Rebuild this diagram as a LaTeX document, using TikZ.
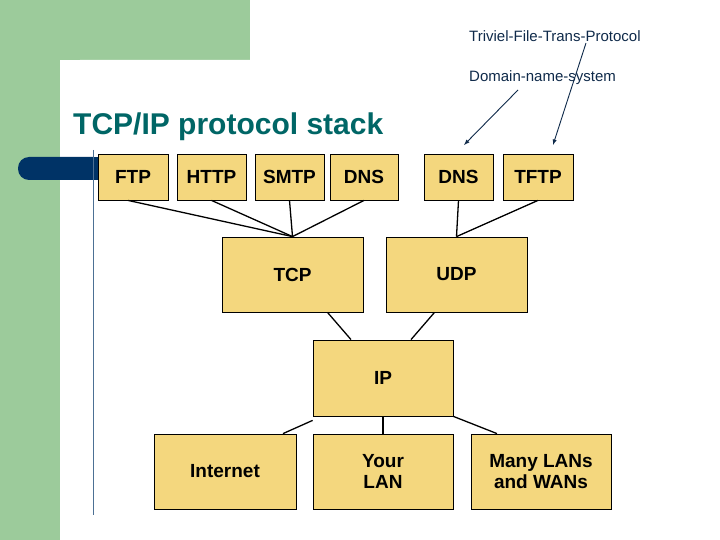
\documentclass[tikz,border=0pt]{standalone}
\usepackage{fontspec}
\setmainfont{Liberation Sans}
\begin{document}
\begin{tikzpicture}[x=1pt,y=-1pt,
  box/.style={draw=black,line width=0.8pt,fill=boxfill,font=\bfseries\fontsize{19}{21}\selectfont,inner sep=0pt,align=center},
  link/.style={line width=1.3pt},
  note/.style={font=\fontsize{15}{17}\selectfont,text=notec,anchor=west,inner sep=0pt},
  narrow/.style={line width=0.9pt,draw=notec,-latex}]
\definecolor{boxfill}{HTML}{F4D77E}
\definecolor{greenbg}{HTML}{9CCB9B}
\definecolor{navy}{HTML}{003366}
\definecolor{teal}{HTML}{006666}
\definecolor{notec}{HTML}{0F2A4A}
\useasboundingbox (0,0) rectangle (720,540);
\fill[greenbg] (0,0) rectangle (250,60);
\fill[greenbg] (0,0) rectangle (60,540);
\fill[white,rounded corners=20pt] (60,60) rectangle (740,560);
\fill[navy,rounded corners=11pt] (18,157) rectangle (110,180);
\fill[navy] (80,157) rectangle (93,180);
\fill[white] (93,140) rectangle (100,157);
\draw[navy!70,line width=0.8pt] (93,150) -- (93,515);
\node[anchor=base west,inner sep=0pt,text=teal,font=\bfseries\fontsize{30}{32}\selectfont] (title) at (73,135) {TCP/IP protocol stack};
\node[note] (tftpn) at (469,36) {Triviel-File-Trans-Protocol};
\node[note] (dnsn) at (469,78) {Domain-name-system};
\coordinate (a1) at (518,90); \coordinate (b1) at (464,145);
\coordinate (a2) at (586,43); \coordinate (b2) at (553,145);
\draw[narrow] (a1) -- (b1);
\draw[narrow] (a2) -- (b2);
% top row
\node[box,minimum width=70pt,minimum height=46pt] (ftp) at (133,177) {FTP};
\node[box,minimum width=69pt,minimum height=46pt] (http) at (211.5,177) {HTTP};
\node[box,minimum width=69pt,minimum height=46pt] (smtp) at (289.5,177) {SMTP};
\node[box,minimum width=68pt,minimum height=46pt] (dns1) at (364,177) {DNS};
\node[box,minimum width=69pt,minimum height=46pt] (dns2) at (458.5,177) {DNS};
\node[box,minimum width=70pt,minimum height=46pt] (tftp) at (538,177) {TFTP};
\node[box,minimum width=141pt,minimum height=75pt] (tcp) at (292.5,274.5) {TCP};
\node[box,minimum width=141pt,minimum height=75pt] (udp) at (456.5,274.5) {UDP};
\node[box,minimum width=140pt,minimum height=76pt] (ip) at (383,378) {IP};
\node[box,minimum width=142pt,minimum height=75pt] (inet) at (225,471.5) {Internet};
\node[box,minimum width=140pt,minimum height=75pt] (lan) at (383,471.5) {Your\\LAN};
\node[box,minimum width=140pt,minimum height=75pt] (wan) at (541,471.5) {Many LANs\\and WANs};
\draw[link] (ftp.south) ++(-5,0) -- (tcp.north);
\draw[link] (http.south) -- (tcp.north);
\draw[link] (smtp.south) -- (tcp.north);
\draw[link] (dns1.south) -- (tcp.north);
\draw[link] (dns2.south) -- (udp.north);
\draw[link] (tftp.south) -- (udp.north);
\draw[link] (tcp.south) ++(35,0) -- ([xshift=-32pt]ip.north);
\draw[link] (udp.south) ++(-22,0) -- ([xshift=28pt]ip.north);
\draw[link] ([yshift=-4pt]ip.south west) -- ([xshift=58pt]inet.north);
\draw[link] (ip.south) -- (lan.north);
\draw[link] (ip.south east) -- ([xshift=-44pt]wan.north);
\end{tikzpicture}
\end{document}
